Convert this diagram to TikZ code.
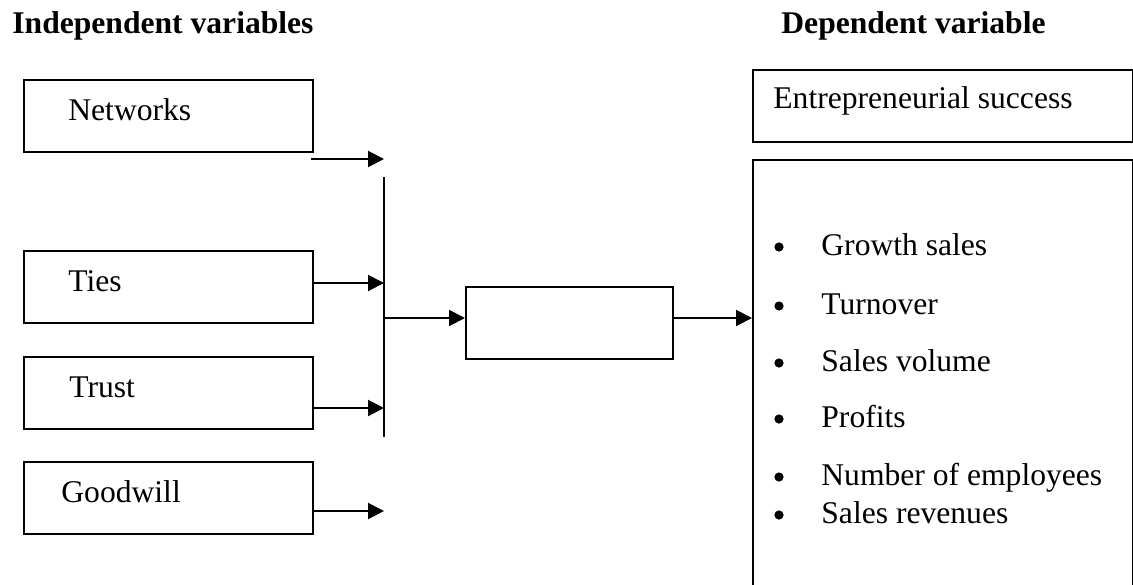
\documentclass[tikz,border=0pt]{standalone}
\usepackage{fontspec}
\setmainfont{Liberation Serif}
\usetikzlibrary{arrows.meta}
\begin{document}
\begin{tikzpicture}[x=0.5pt,y=-0.5pt,
  box/.style={draw,line width=1pt,inner sep=0,anchor=north west},
  lbl/.style={anchor=base west,inner sep=0,font=\fontsize{15.8}{19}\selectfont},
  ttl/.style={anchor=base west,inner sep=0,font=\fontsize{15.8}{19}\selectfont\bfseries},
  conn/.style={line width=1pt,-{Triangle[length=8pt,width=8pt]}},
  dot/.style={circle,fill,inner sep=0,minimum size=4.6pt}]
\useasboundingbox (0,0) rectangle (1133,584);

% titles
\node[ttl] (tIndep) at (12,33) {Independent variables};
\node[ttl] (tDep) at (781,33) {Dependent variable};

% left boxes
\node[box,minimum width=144.5pt,minimum height=36pt] (net) at (23,79) {};
\node[box,minimum width=144.5pt,minimum height=36pt] (ties) at (23,250) {};
\node[box,minimum width=144.5pt,minimum height=36pt] (trust) at (23,356) {};
\node[box,minimum width=144.5pt,minimum height=36pt] (good) at (23,461) {};
\node[lbl] (netT) at (68,120) {Networks};
\node[lbl] (tiesT) at (68,291) {Ties};
\node[lbl] (trustT) at (69,397) {Trust};
\node[lbl] (goodT) at (61,502) {Goodwill};

% middle box
\node[box,minimum width=103.5pt,minimum height=36pt] (mid) at (465,286) {};

% right boxes
\node[box,minimum width=190pt,minimum height=36pt] (es) at (752,69) {};
\node[lbl] (esT) at (773,108) {Entrepreneurial success};
\node[box,minimum width=190pt,minimum height=225pt] (big) at (752,159) {};

% bus line
\coordinate (busTop) at (384,177);
\coordinate (busBot) at (384,437);
\draw[line width=1pt] (busTop) -- (busBot);

% arrows
\coordinate (nS) at (311,159);
\coordinate (nE) at (384,159);
\draw[conn] (nS) -- (nE);
\draw[conn] (ties.east |- 0,283) -- (busTop |- 0,283);
\draw[conn] (trust.east |- 0,408) -- (busTop |- 0,408);
\coordinate (gE) at (384,511);
\draw[conn] (good.east |- gE) -- (gE);
\draw[conn] (busTop |- 0,318) -- (mid.west |- 0,318);
\draw[conn] (mid.east |- 0,318) -- (big.west |- 0,318);

% bullet list
\foreach \yb/\txt [count=\i] in {255/Growth sales,314/Turnover,371/Sales volume,427/Profits,485/Number of employees,523/Sales revenues}{
  \node[dot] (b\i) at (779,\yb-8) {};
  \node[lbl] (it\i) at (821,\yb) {\txt};
}
\end{tikzpicture}
\end{document}
